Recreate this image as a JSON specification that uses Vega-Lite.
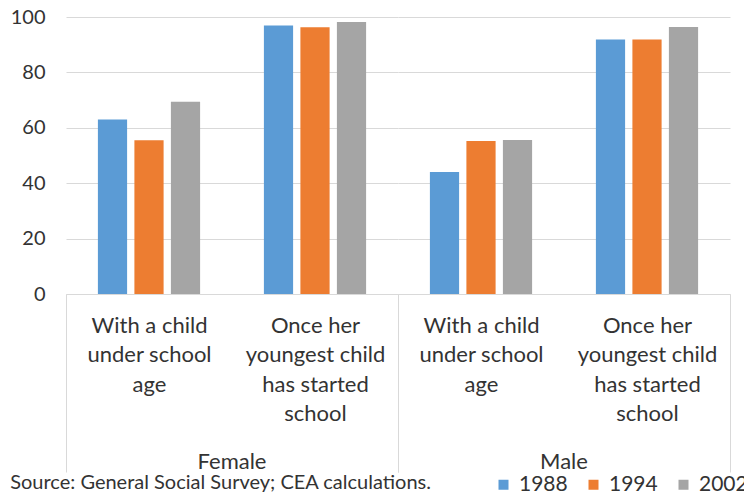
{
  "$schema": "https://vega.github.io/schema/vega-lite/v6.json",
  "padding": {"left": 10, "top": 7, "right": 0, "bottom": 0},
  "background": "white",
  "data": {
    "values": [
      {"sex": "Female", "situation": "With a child|under school|age", "year": "1988", "value": 63.0},
      {"sex": "Female", "situation": "With a child|under school|age", "year": "1994", "value": 55.5},
      {"sex": "Female", "situation": "With a child|under school|age", "year": "2002", "value": 69.4},
      {"sex": "Female", "situation": "Once her|youngest child|has started|school", "year": "1988", "value": 96.9},
      {"sex": "Female", "situation": "Once her|youngest child|has started|school", "year": "1994", "value": 96.3},
      {"sex": "Female", "situation": "Once her|youngest child|has started|school", "year": "2002", "value": 98.2},
      {"sex": "Male", "situation": "With a child|under school|age", "year": "1988", "value": 44.0},
      {"sex": "Male", "situation": "With a child|under school|age", "year": "1994", "value": 55.2},
      {"sex": "Male", "situation": "With a child|under school|age", "year": "2002", "value": 55.6},
      {"sex": "Male", "situation": "Once her|youngest child|has started|school", "year": "1988", "value": 91.9},
      {"sex": "Male", "situation": "Once her|youngest child|has started|school", "year": "1994", "value": 91.9},
      {"sex": "Male", "situation": "Once her|youngest child|has started|school", "year": "2002", "value": 96.4}
    ]
  },
  "facet": {
    "column": {
      "field": "sex",
      "type": "nominal",
      "sort": ["Female", "Male"],
      "header": {
        "title": null,
        "labelOrient": "bottom",
        "labelFont": "Lato",
        "labelFontSize": 22,
        "labelColor": "#333333",
        "labelPadding": -21
      }
    }
  },
  "spacing": 0,
  "spec": {
    "width": 332,
    "height": 277,
    "mark": {"type": "bar"},
    "encoding": {
      "x": {
        "field": "situation",
        "type": "nominal",
        "sort": ["With a child|under school|age", "Once her|youngest child|has started|school"],
        "scale": {"paddingInner": 0, "paddingOuter": 0},
        "axis": {
          "title": null,
          "labelAngle": 0,
          "labelExpr": "split(datum.label, '|')",
          "labelFont": "Lato",
          "labelFontSize": 22,
          "labelColor": "#333333",
          "labelLineHeight": 29.5,
          "labelPadding": -157,
          "domainColor": "#D9D9D9",
          "tickColor": "#D9D9D9",
          "tickSize": 178,
          "tickBand": "extent",
          "tickOpacity": {"condition": {"test": "datum.value == 'With a child|under school|age'", "value": 0}, "value": 1}
        }
      },
      "xOffset": {
        "field": "year",
        "type": "nominal",
        "scale": {"paddingInner": 0.2, "paddingOuter": 0.874}
      },
      "y": {
        "field": "value",
        "type": "quantitative",
        "scale": {"domain": [0, 100]},
        "axis": {
          "title": null,
          "values": [0, 20, 40, 60, 80, 100],
          "domain": false,
          "ticks": false,
          "labelFont": "Lato",
          "labelFontSize": 20,
          "labelColor": "#333333",
          "labelPadding": 21,
          "gridColor": "#D9D9D9",
          "gridWidth": 1
        }
      },
      "color": {
        "field": "year",
        "type": "nominal",
        "scale": {"domain": ["1988", "1994", "2002"], "range": ["#5B9BD5", "#ED7D31", "#A5A5A5"]},
        "legend": {
          "title": null,
          "orient": "none",
          "direction": "horizontal",
          "legendX": 427,
          "legendY": 457,
          "symbolType": "square",
          "symbolSize": 100,
          "symbolStrokeWidth": 0,
          "labelFont": "Lato",
          "labelFontSize": 21,
          "labelColor": "#333333",
          "labelOffset": 5,
          "columnPadding": 15
        }
      }
    }
  },
  "title": {
    "text": "Source: General Social Survey; CEA calculations.",
    "orient": "bottom",
    "anchor": "start",
    "frame": "bounds",
    "font": "Lato",
    "fontSize": 20,
    "fontWeight": "normal",
    "color": "#333333",
    "offset": -22
  },
  "config": {"view": {"stroke": null}}
}
